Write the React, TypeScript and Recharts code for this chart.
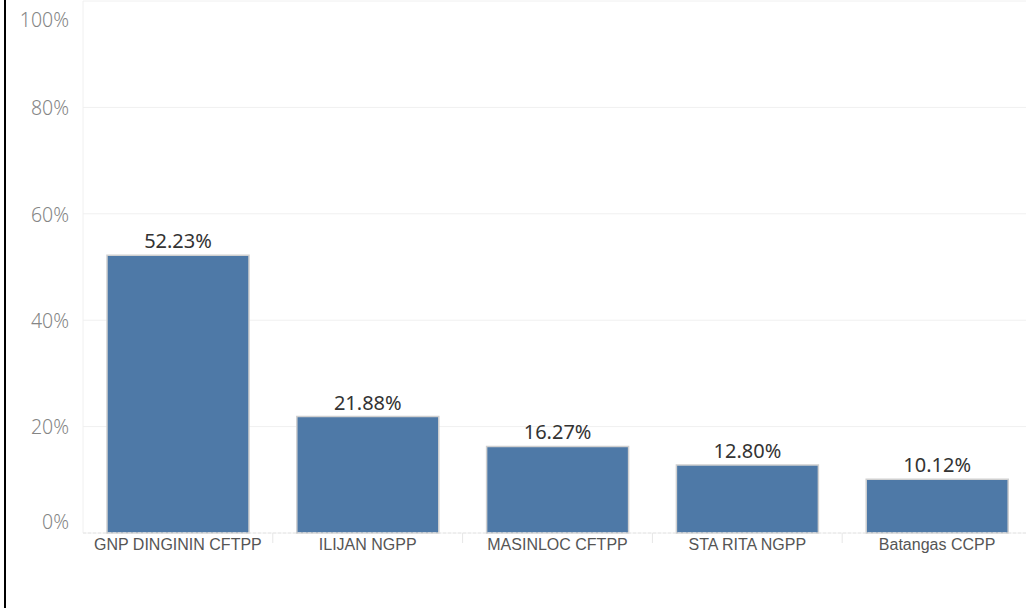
import { BarChart, Bar, XAxis, YAxis, CartesianGrid, LabelList } from 'recharts';

const plants = ['GNP DINGININ CFTPP', 'ILIJAN NGPP', 'MASINLOC CFTPP', 'STA RITA NGPP', 'Batangas CCPP'];
const shares = [52.23, 21.88, 16.27, 12.8, 10.12];
const yTicks = [0, 20, 40, 60, 80, 100];

const W = 1032;
const H = 608;
const LEFT = 83;
const BAND = (W - LEFT) / plants.length;

const data = plants.map((name, i) => ({ name, value: shares[i] }));

function YTick(props: any) {
  const { x, y, payload } = props;
  const v = payload.value;
  const dy = v === 100 ? 11 : v === 0 ? -11 : 1;
  return (
    <text x={x - 6} y={y + dy} dy="0.35em" textAnchor="end" fill="#858585" fontSize={19.5} fontWeight={300} fontFamily="'Noto Sans', sans-serif">
      {v}%
    </text>
  );
}

function XTick(props: any) {
  const { x, y, payload, index } = props;
  return (
    <g>
      {index < plants.length - 1 && (
        <line x1={x + BAND / 2} x2={x + BAND / 2} y1={y - 8} y2={y + 2} stroke="#e6e6e6" />
      )}
      <text x={x} y={y + 9} textAnchor="middle" fill="#555" fontSize={16} fontFamily="'Liberation Sans', Arial, sans-serif">
        {payload.value}
      </text>
    </g>
  );
}

export default function App() {
  return (
    <div style={{ position: 'fixed', left: 0, top: 0, width: 1026, height: H, background: '#fff', overflow: 'hidden' }}>
      <div style={{ position: 'absolute', left: 4, top: 0, width: 1.5, height: H, background: '#000' }} />
      <BarChart
        width={W}
        height={H}
        data={data}
        margin={{ top: 1, right: 0, bottom: 0, left: 0 }}
        barCategoryGap={24}
      >
        <CartesianGrid stroke="#f0f0f0" vertical={false} />
        <YAxis
          domain={[0, 100]}
          ticks={yTicks}
          width={LEFT}
          axisLine={{ stroke: '#f0f0f0' }}
          tickLine={false}
          tick={<YTick />}
        />
        <XAxis
          dataKey="name"
          height={75}
          axisLine={{ stroke: '#e6e6e6', strokeDasharray: '3 2' }}
          tickLine={false}
          interval={0}
          tick={<XTick />}
        />
        <Bar dataKey="value" fill="#4e79a7" stroke="#d0d0d0" strokeWidth={1.5} isAnimationActive={false}>
          <LabelList
            dataKey="value"
            position="top"
            offset={7}
            formatter={(v: any) => `${Number(v).toFixed(2)}%`}
            style={{ fill: '#333', fontSize: 20, fontFamily: "'Noto Sans', sans-serif" }}
          />
        </Bar>
      </BarChart>
    </div>
  );
}
